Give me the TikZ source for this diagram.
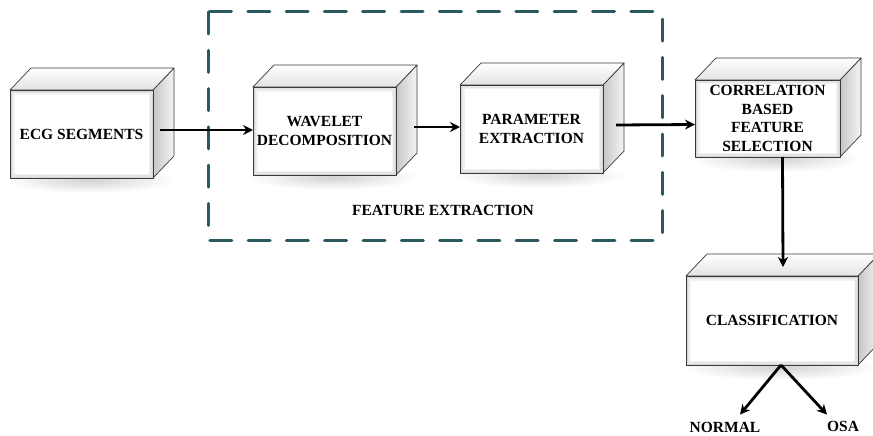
\documentclass[tikz,border=0pt]{standalone}
\usepackage{fontspec}
\setmainfont{Liberation Serif}
\usetikzlibrary{arrows.meta,calc}
\definecolor{dashteal}{HTML}{2A5A5D}
\definecolor{edgegray}{HTML}{3A3A3A}
\tikzset{
  edge/.style={draw=edgegray,line width=0.7pt,line join=round},
  txt/.style={font=\fontsize{15.5}{18.8}\selectfont\bfseries,align=center,inner sep=0pt,outer sep=0pt},
  arr/.style={line width=2.8pt,-{Stealth[length=10pt,width=10pt]}},
  grp/.style={draw=dashteal,line width=3pt,line cap=round,dash pattern=on 22pt off 16.3pt},
  lbl/.style={font=\fontsize{15.5}{17}\selectfont\bfseries,inner sep=1pt}
}
% #1 name, #2 x1, #3 y1, #4 x2, #5 y2, #6 text
\newcommand\cubebox[6]{%
  \shade[inner color=gray!35,outer color=white] ({(#2+#4)/2+8},#5+2) ellipse ({(#4-#2)/2+14} and 13);
  \shade[left color=gray!45,right color=gray!8,edge] (#4,#3) -- (#4+21,#3-22) -- (#4+21,#5-22) -- (#4,#5) -- cycle;
  \shade[top color=white,bottom color=gray!22,edge] (#2,#3) -- (#2+21,#3-22) -- (#4+21,#3-22) -- (#4,#3) -- cycle;
  \fill[gray!32] (#2,#3) rectangle (#4,#5);
  \fill[gray!20] (#2+1.5,#3+1.5) rectangle (#4-1.5,#5-1.5);
  \fill[gray!10] (#2+3,#3+3) rectangle (#4-3,#5-3);
  \fill[white] (#2+4.5,#3+4.5) rectangle (#4-4.5,#5-4.5);
  \draw[edge] (#2,#3) rectangle (#4,#5);
  \node[txt,minimum width={(#4-#2)*1pt},minimum height={(#5-#3)*1pt}] (#1) at ({(#2+#4)/2},{(#3+#5)/2}) {#6};
}
\begin{document}
\begin{tikzpicture}[x=1pt,y=-1pt]
\useasboundingbox (0,0) rectangle (873,436);
\fill[white] (0,0) rectangle (873,436);

\cubebox{ecg}{10}{90}{153}{178}{ECG SEGMENTS}
\cubebox{wav}{253}{87}{396}{175}{WAVELET\\DECOMPOSITION}
\cubebox{par}{460}{85}{603}{173}{PARAMETER\\EXTRACTION}
\cubebox{cor}{695}{80}{840}{157}{CORRELATION\\BASED\\FEATURE\\SELECTION}
\cubebox{cls}{686}{276}{858}{365}{CLASSIFICATION}

\draw[grp] (208,12) rectangle (662,240);
\node[lbl] (fe) at (443,210) {FEATURE EXTRACTION};

\node[lbl] (nor) at (725,427) {NORMAL};
\node[lbl] (osa) at (843,426) {OSA};

\coordinate (apex) at ([xshift=9pt]cls.south);

\draw[arr] ([xshift=7pt,yshift=4pt]ecg.east) -- ([yshift=1pt]wav.west);
\draw[arr] ([xshift=18pt,yshift=4pt]wav.east) -- ([yshift=2pt]par.west);
\draw[arr] ([xshift=13pt,yshift=4pt]par.east) -- ([yshift=-6pt]cor.west);
\draw[arr] ([xshift=15pt]cor.south) -- ([xshift=11pt,yshift=9pt]cls.north);
\draw[arr] (apex) -- ([xshift=15pt,yshift=6pt]nor.north);
\draw[arr] (apex) -- ([xshift=-16pt,yshift=5pt]osa.north);
\end{tikzpicture}
\end{document}
